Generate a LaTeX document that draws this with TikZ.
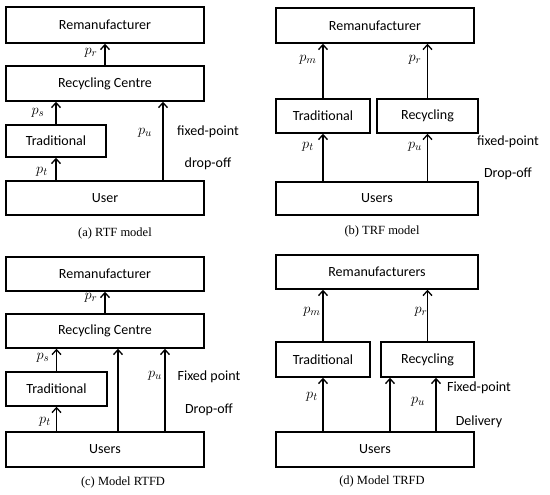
\documentclass[tikz,border=0pt]{standalone}
\usepackage{fontspec}
\setmainfont{Liberation Serif}
\newfontfamily\boxfont{Carlito}
\usetikzlibrary{arrows.meta}
\tikzset{
  box/.style={draw=black,line width=1.4pt,inner sep=0pt,font=\boxfont\fontsize{14}{16}\selectfont},    % entity box
  flow/.style={-{Straight Barb[length=5pt,width=9pt,line width=1.3pt]},line width=1.4pt},             % product flow
  price/.style={font=\fontsize{15}{17}\selectfont},                                                    % price label
  chan/.style={font=\boxfont\fontsize{14}{16}\selectfont},                                             % channel label
  capt/.style={font=\fontsize{12.5}{15}\selectfont},                                                   % panel caption
}
\begin{document}
\begin{tikzpicture}[x=1pt,y=-1pt]
  \useasboundingbox (0,0) rectangle (550,495);
  % (a) RTF model
  \node[box,minimum width=198pt,minimum height=36pt] (remA) at (105,25) {Remanufacturer};
  \node[box,minimum width=198pt,minimum height=35pt] (recA) at (105,83.5) {Recycling Centre};
  \node[box,minimum width=100pt,minimum height=32pt] (tradA) at (56,141) {Traditional};
  \node[box,minimum width=198pt,minimum height=34pt] (userA) at (105,198) {User};
  \coordinate (uA) at (163,0);
  \draw[flow] (recA) -- (remA);
  \draw[flow] (tradA) -- (recA.south -| tradA);
  \draw[flow] (userA.north -| tradA) -- (tradA);
  \draw[flow] (userA.north -| uA) -- (recA.south -| uA);
  \node[price] (prA) at (91,53) {$p_r$};
  \node[price] (psA) at (38,113) {$p_s$};
  \node[price] (ptA) at (42,172) {$p_t$};
  \node[price] (puA) at (145,133) {$p_u$};
  \node[chan] (fixA) at (208,132) {fixed-point};
  \node[chan] (dropA) at (208,164) {drop-off};
  \node[capt] (captA) at (115,233) {(a) RTF model};
  % (b) TRF model
  \node[box,minimum width=198pt,minimum height=35pt] (remB) at (375,25.5) {Remanufacturer};
  \node[box,minimum width=94pt,minimum height=34pt] (tradB) at (323,116) {Traditional};
  \node[box,minimum width=101pt,minimum height=34pt] (recyB) at (427.5,116) {Recycling};
  \node[box,minimum width=202pt,minimum height=33pt] (userB) at (377,198.5) {Users};
  \draw[flow] (tradB) -- (remB.south -| tradB);
  \draw[flow] (recyB) -- (remB.south -| recyB);
  \draw[flow] (userB.north -| tradB) -- (tradB);
  \draw[flow] (userB.north -| recyB) -- (recyB);
  \node[price] (pmB) at (308,60) {$p_m$};
  \node[price] (prB) at (415,60) {$p_r$};
  \node[price] (ptB) at (308,147) {$p_t$};
  \node[price] (puB) at (415,147) {$p_u$};
  \node[chan] (fixB) at (508,142) {fixed-point};
  \node[chan] (dropB) at (508,174) {Drop-off};
  \node[capt] (captB) at (382,231) {(b) TRF model};
  % (c) Model RTFD
  \node[box,minimum width=198pt,minimum height=34pt] (remC) at (105,274) {Remanufacturer};
  \node[box,minimum width=198pt,minimum height=34pt] (recC) at (105,331) {Recycling Centre};
  \node[box,minimum width=101pt,minimum height=34pt] (tradC) at (56.5,389) {Traditional};
  \node[box,minimum width=198pt,minimum height=35pt] (userC) at (105,449.5) {Users};
  \coordinate (mC) at (118,0);
  \coordinate (uC) at (165,0);
  \draw[flow] (recC) -- (remC);
  \draw[flow] (tradC) -- (recC.south -| tradC);
  \draw[flow] (userC.north -| tradC) -- (tradC);
  \draw[flow] (userC.north -| mC) -- (recC.south -| mC);
  \draw[flow] (userC.north -| uC) -- (recC.south -| uC);
  \node[price] (prC) at (91,298) {$p_r$};
  \node[price] (psC) at (43,358) {$p_s$};
  \node[price] (ptC) at (45,422) {$p_t$};
  \node[price] (puC) at (155,376) {$p_u$};
  \node[chan] (fixC) at (209,377) {Fixed point};
  \node[chan] (dropC) at (209,410) {Drop-off};
  \node[capt] (captC) at (123,482) {(c) Model RTFD};
  % (d) Model TRFD
  \node[box,minimum width=202pt,minimum height=34pt] (remD) at (377,272) {Remanufacturers};
  \node[box,minimum width=94pt,minimum height=35pt] (tradD) at (323,359.5) {Traditional};
  \node[box,minimum width=93pt,minimum height=35pt] (recyD) at (427.5,359.5) {Recycling};
  \node[box,minimum width=198pt,minimum height=35pt] (userD) at (375,449.5) {Users};
  \coordinate (mD) at (390,0);
  \coordinate (uD) at (436,0);
  \draw[flow] (tradD) -- (remD.south -| tradD);
  \draw[flow] (recyD) -- (remD.south -| recyD);
  \draw[flow] (userD.north -| tradD) -- (tradD);
  \draw[flow] (userD.north -| mD) -- (recyD.south -| mD);
  \draw[flow] (userD.north -| uD) -- (recyD.south -| uD);
  \node[price] (pmD) at (312,312) {$p_m$};
  \node[price] (prD) at (421,312) {$p_r$};
  \node[price] (ptD) at (312,397) {$p_t$};
  \node[price] (puD) at (418,402) {$p_u$};
  \node[chan] (fixD) at (479,388) {Fixed-point};
  \node[chan] (delD) at (479,422) {Delivery};
  \node[capt] (captD) at (382,481) {(d) Model TRFD};
\end{tikzpicture}
\end{document}
